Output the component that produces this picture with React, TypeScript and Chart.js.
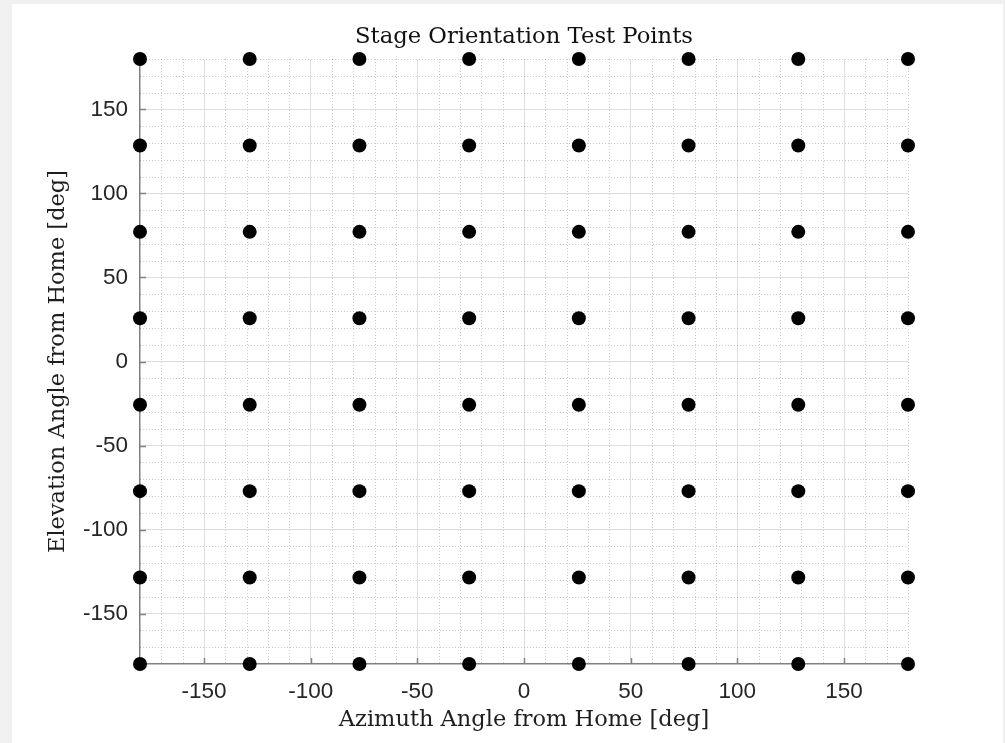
import React, { useEffect, useRef } from "react";
import { Chart, registerables } from "chart.js";

Chart.register(...registerables);

// ---- data ----
const azimuthDeg = [-180, -128.57, -77.14, -25.71, 25.71, 77.14, 128.57, 180];
const elevationDeg = [-180, -128.57, -77.14, -25.71, 25.71, 77.14, 128.57, 180];
const xTickValues = [-150, -100, -50, 0, 50, 100, 150];
const yTickValues = [-150, -100, -50, 0, 50, 100, 150];
const axisMin = -180;
const axisMax = 180;
const minorStep = 10;
const titleText = "Stage Orientation Test Points";
const xLabelText = "Azimuth Angle from Home [deg]";
const yLabelText = "Elevation Angle from Home [deg]";

const serifFont = "'DejaVu Serif', serif";
const sansFont = "'Liberation Sans', Arial, sans-serif";

const matlabPlugin = {
  id: "matlabAxes",
  beforeDraw(chart: any) {
    const { ctx, width, height } = chart;
    ctx.save();
    ctx.fillStyle = "#f0f0f0";
    ctx.fillRect(0, 0, width, height);
    ctx.fillStyle = "#ffffff";
    ctx.fillRect(12, 4, 991, height - 4);
    ctx.restore();
  },
  beforeDatasetsDraw(chart: any) {
    const { ctx, chartArea: a, scales } = chart;
    const x = scales.x;
    const y = scales.y;
    ctx.save();
    // minor dotted grid
    ctx.strokeStyle = "rgba(0,0,0,0.2)";
    ctx.lineWidth = 1;
    ctx.setLineDash([1, 2]);
    for (let v = axisMin + minorStep; v <= axisMax; v += minorStep) {
      if (!xTickValues.includes(v)) {
        const px = Math.round(x.getPixelForValue(v)) + 0.5;
        ctx.beginPath();
        ctx.moveTo(px, a.top);
        ctx.lineTo(px, a.bottom);
        ctx.stroke();
      }
      if (!yTickValues.includes(v)) {
        const py = Math.round(y.getPixelForValue(v)) + 0.5;
        ctx.beginPath();
        ctx.moveTo(a.left, py);
        ctx.lineTo(a.right, py);
        ctx.stroke();
      }
    }
    // inward tick marks
    ctx.setLineDash([]);
    ctx.strokeStyle = "#808080";
    ctx.lineWidth = 1.5;
    xTickValues.forEach((v) => {
      const px = Math.round(x.getPixelForValue(v)) + 0.5;
      ctx.beginPath();
      ctx.moveTo(px, a.bottom);
      ctx.lineTo(px, a.bottom - 6);
      ctx.stroke();
    });
    yTickValues.forEach((v) => {
      const py = Math.round(y.getPixelForValue(v)) + 0.5;
      ctx.beginPath();
      ctx.moveTo(a.left, py);
      ctx.lineTo(a.left + 6, py);
      ctx.stroke();
    });
    ctx.restore();
  },
};

export default function App() {
  const canvasRef = useRef<HTMLCanvasElement | null>(null);

  useEffect(() => {
    if (!canvasRef.current) return;
    const points: { x: number; y: number }[] = [];
    azimuthDeg.forEach((az) => {
      elevationDeg.forEach((el) => {
        points.push({ x: az, y: el });
      });
    });

    const chart = new Chart(canvasRef.current, {
      type: "scatter",
      data: {
        datasets: [
          {
            label: "Test Points",
            data: points,
            backgroundColor: "#000000",
            borderColor: "#000000",
            borderWidth: 0,
            pointRadius: 7,
            pointHoverRadius: 7,
            clip: false as any,
          },
        ],
      },
      options: {
        animation: false,
        responsive: false,
        events: [],
        layout: { padding: { left: 0, right: 97, top: 0, bottom: 0 } },
        plugins: {
          legend: { display: false },
          tooltip: { enabled: false },
          title: {
            display: true,
            text: titleText,
            fullSize: false,
            color: "#111111",
            font: { family: serifFont, size: 22.7, weight: "normal" as any },
            padding: { top: 23, bottom: 8.76 },
          },
        },
        scales: {
          x: {
            type: "linear",
            min: axisMin,
            max: axisMax,
            afterBuildTicks: (s: any) => {
              s.ticks = xTickValues.map((v) => ({ value: v }));
            },
            afterFit: (s: any) => {
              s.height = 79;
            },
            grid: { color: "#dedede", lineWidth: 1, drawTicks: false },
            border: { color: "#808080", width: 1.5 },
            ticks: {
              padding: 14,
              color: "#262626",
              font: { family: sansFont, size: 22.5 },
              maxRotation: 0,
              autoSkip: false,
            },
            title: {
              display: true,
              text: xLabelText,
              color: "#1e1e1e",
              font: { family: serifFont, size: 22.5 },
              padding: { top: 0, bottom: 9.2 },
            },
          },
          y: {
            type: "linear",
            min: axisMin,
            max: axisMax,
            afterBuildTicks: (s: any) => {
              s.ticks = yTickValues.map((v) => ({ value: v }));
            },
            afterFit: (s: any) => {
              s.width = 140;
            },
            grid: { color: "#dedede", lineWidth: 1, drawTicks: false },
            border: { color: "#808080", width: 1.5 },
            ticks: {
              padding: 12,
              color: "#262626",
              font: { family: sansFont, size: 22.5 },
              autoSkip: false,
            },
            title: {
              display: true,
              text: yLabelText,
              color: "#1e1e1e",
              font: { family: serifFont, size: 22.5 },
              padding: { top: 44.8, bottom: 0 },
            },
          },
        },
      },
      plugins: [matlabPlugin],
    });

    return () => chart.destroy();
  }, []);

  return (
    <div style={{ position: "fixed", left: 0, top: 0, width: 1005, height: 743, overflow: "hidden" }}>
      <canvas ref={canvasRef} width={1005} height={743} style={{ display: "block", width: 1005, height: 743 }} />
    </div>
  );
}
